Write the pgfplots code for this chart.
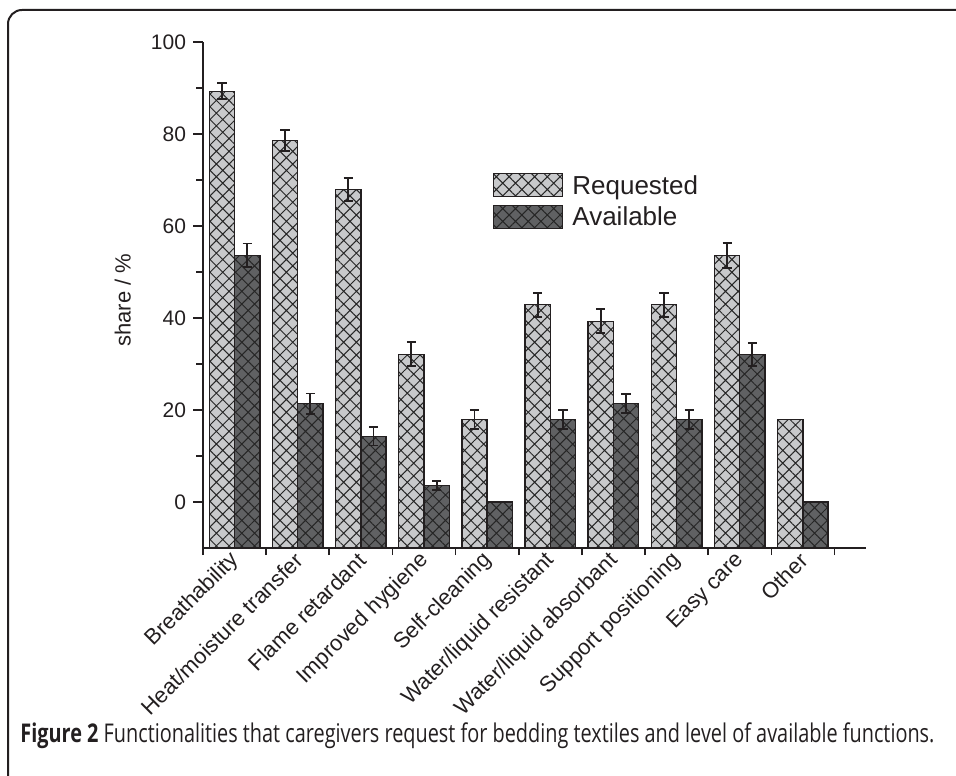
\documentclass[border=0pt]{standalone}
\usepackage{pgfplots}
\pgfplotsset{compat=1.18}
\usepackage{pgfplotstable}
\usetikzlibrary{patterns.meta}
\usepackage{fontspec}
\setmainfont{Liberation Sans}
\newfontfamily\capfont[FakeStretch=0.77]{Open Sans}
\definecolor{reqgray}{RGB}{200,201,203}
\definecolor{avgray}{RGB}{96,97,99}
\definecolor{edge}{RGB}{35,31,32}

% x = bar position (group i spans i..i+1), y = share (%), e = error
\pgfplotstableread{
x y e
0.3 89.3 1.7
1.3 78.6 2.3
2.3 67.9 2.5
3.3 32.1 2.6
4.3 17.9 2.1
5.3 42.9 2.6
6.3 39.3 2.6
7.3 42.9 2.6
8.3 53.6 2.7
}\requested
\pgfplotstableread{
x y
9.3 17.9
}\requestedother
\pgfplotstableread{
x y e
0.7 53.6 2.6
1.7 21.4 2.2
2.7 14.3 2.0
3.7 3.6 1.0
5.7 17.9 2.1
6.7 21.4 2.1
7.7 17.9 2.1
8.7 32.1 2.5
}\available
\pgfplotstableread{
x y
4.7 0
9.7 0
}\availableother

\begin{document}
\begin{tikzpicture}
\useasboundingbox (0,0) rectangle (478pt,387.5pt);
\draw[line width=1pt, color=edge, rounded corners=7pt] (4pt,-20pt) -- (4pt,382.5pt) -- (500pt,382.5pt);
\node[anchor=base west, inner sep=0pt, text=edge] at (10pt,16.5pt)
  {\resizebox{457pt}{!}{\capfont\fontsize{11}{13}\selectfont\textbf{Figure 2} Functionalities that caregivers request for bedding textiles and level of available functions.}};
\begin{axis}[
  at={(101.5pt,113.5pt)}, anchor=south west,
  width=331.5pt, height=253pt, scale only axis,
  xmin=0, xmax=10.5, ymin=0, ymax=110,
  y filter/.expression={y+10},
  axis lines=left, axis line style={-, line width=0.8pt, color=edge},
  tick align=outside,
  major tick length=5pt, minor tick length=3.5pt,
  every tick/.style={line width=0.8pt, color=edge},
  xtick={0.5,1.5,...,9.5},
  xticklabels={Breathability,Heat/moisture transfer,Flame retardant,Improved hygiene,Self-cleaning,Water/liquid resistant,Water/liquid absorbant,Support positioning,Easy care,Other},
  minor xtick={0,1,...,10},
  major x tick style={draw=none},
  ytick={10,30,...,110},
  yticklabels={0,20,40,60,80,100},
  minor ytick={20,40,...,100},
  tick label style={font=\fontsize{10.5}{12}\selectfont, text=edge},
  /pgf/number format/assume math mode=true,
  xticklabel style={font=\fontsize{11}{13}\selectfont, xshift=3pt, yshift=3pt, rotate=45, anchor=east},
  ylabel={share / \%},
  ylabel style={font=\fontsize{11}{13}\selectfont, text=edge, at={(axis description cs:-0.121,0.49)}, anchor=center},
  legend style={draw=none, fill=none, inner sep=0pt, outer sep=0pt,
    at={(axis description cs:0.4374,0.741)}, anchor=north west,
    font=\fontsize{13}{15}\selectfont, text=edge,
    nodes={inner sep=0pt}, column sep=4.5pt, row sep=3.6pt},
  legend cell align=left,
]
\pgfplotsset{
  barbase/.style={ybar, bar width=0.4, bar shift=0pt, draw=edge, line width=0.7pt,
    legend image code/.code={\draw[##1] (0pt,-5.3pt) rectangle (34.5pt,6.2pt);}},
  reqbar/.style={barbase, fill=reqgray,
    postaction={pattern={Hatch[angle=45,distance=4.5pt,line width=0.5pt]}, pattern color=black!85}},
  avbar/.style={barbase, fill=avgray,
    postaction={pattern={Hatch[angle=45,distance=4.5pt,line width=0.5pt]}, pattern color=black!85}},
  errs/.style={error bars/.cd, y dir=both, y explicit,
    error bar style={line width=0.9pt, draw=edge},
    error mark options={line width=0.9pt, mark size=2.3pt, draw=edge, rotate=90}},
}
\addplot[reqbar, errs] table[x=x, y=y, y error=e] {\requested};
\addlegendentry{Requested}
\addplot[avbar, errs] table[x=x, y=y, y error=e] {\available};
\addlegendentry{Available}
\addplot[reqbar, forget plot] table[x=x, y=y] {\requestedother};
\addplot[avbar, forget plot] table[x=x, y=y] {\availableother};
\end{axis}
\end{tikzpicture}
\end{document}
